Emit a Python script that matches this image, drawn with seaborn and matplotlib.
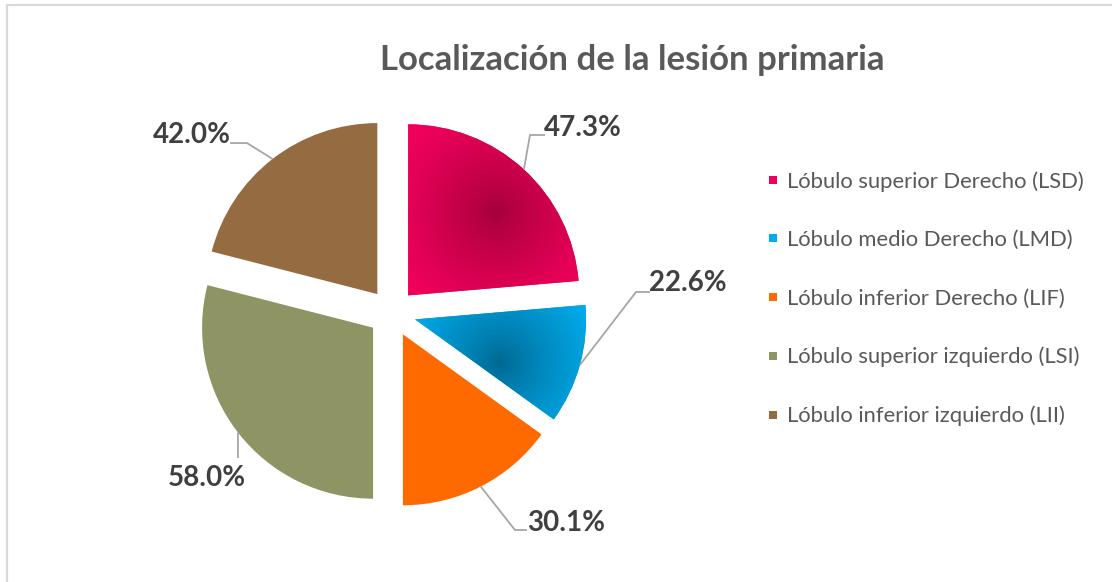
import matplotlib
matplotlib.use("Agg")
import matplotlib.pyplot as plt
from matplotlib.lines import Line2D
import seaborn as sns
import numpy as np

sns.set_theme(style="white")
plt.rcParams['font.family'] = ['Lato', 'DejaVu Sans']

# data
categories = ["Lóbulo superior Derecho (LSD)", "Lóbulo medio Derecho (LMD)",
              "Lóbulo inferior Derecho (LIF)", "Lóbulo superior izquierdo (LSI)",
              "Lóbulo inferior izquierdo (LII)"]
values = [47.3, 22.6, 30.1, 58.0, 42.0]
colors = ['#EE005A', '#00AEEF', '#FF6A00', '#8F9464', '#956B42']
# radial shading for the first two slices: centre colour, (dist, angle shift)
shade = ['#A3003A', '#00668F', None, None, None]
shade_pos = [(0.71, -4), (0.56, -11), None, None, None]

title = "Localización de la lesión primaria"
txtcol = '#595959'
lblcol = '#404040'
linecol = '#A6A6A6'

# label layout, in pie radii relative to pie centre: elbow, line end, text
label_layout = [
    ((0.807, 1.041), (0.895, 1.041), (1.117, 1.082)),
    ((1.427, 0.123), (1.509, 0.123), (1.731, 0.175)),
    ((0.719, -1.269), (0.789, -1.269), (1.018, -1.228)),
    ((-0.901, -0.848), (-0.901, -0.848), (-1.082, -0.965)),
    ((-0.848, 0.994), (-0.947, 0.994), (-1.170, 1.041)),
]

explode_frac = 0.14
W, H = 1112, 582
fig = plt.figure(figsize=(W / 100, H / 100), dpi=100)
fig.patch.set_facecolor('white')

R = 171.0
cx, cy = 392, H - 313
half = 250
ax = fig.add_axes([(cx - half) / W, (cy - half) / H, 2 * half / W, 2 * half / H])

wedges, _ = ax.pie(values, colors=colors, startangle=90, counterclock=False,
                   explode=[explode_frac] * len(values), radius=1,
                   wedgeprops=dict(linewidth=0))
lim = half / R
ax.set_xlim(-lim, lim)
ax.set_ylim(-lim, lim)
ax.set_aspect('equal')
ax.axis('off')

# radial gradients clipped to wedges
n = 500
gx = np.linspace(-lim, lim, n)
GX, GY = np.meshgrid(gx, gx)
for w, outer, inner, pos in zip(wedges, colors, shade, shade_pos):
    if inner is None:
        continue
    mid = np.deg2rad((w.theta1 + w.theta2) / 2 + pos[1])
    ox, oy = w.center
    gcx, gcy = ox + pos[0] * np.cos(mid), oy + pos[0] * np.sin(mid)
    d = np.hypot(GX - gcx, GY - gcy)
    t = np.clip(d / 0.62, 0, 1) ** 0.8
    c_out = np.array(matplotlib.colors.to_rgb(outer))
    c_in = np.array(matplotlib.colors.to_rgb(inner))
    img = c_in[None, None, :] * (1 - t[..., None]) + c_out[None, None, :] * t[..., None]
    im = ax.imshow(img, extent=(-lim, lim, -lim, lim), origin='lower',
                   zorder=w.get_zorder() + 0.5, interpolation='bilinear')
    im.set_clip_path(w)

# labels with leader lines
for w, v, (elbow, end, txt) in zip(wedges, values, label_layout):
    mid = np.deg2rad((w.theta1 + w.theta2) / 2)
    ox, oy = w.center
    ax_, ay_ = ox + np.cos(mid), oy + np.sin(mid)
    ax.plot([ax_, elbow[0], end[0]], [ay_, elbow[1], end[1]], color=linecol,
            lw=1.3, solid_capstyle='butt', zorder=5, clip_on=False)
    ax.text(txt[0], txt[1], f"{v:.1f}%", ha='center', va='center',
            fontsize=20, fontweight='bold', color=lblcol, clip_on=False)

fig.text(632 / W, 1 - 60 / H, title, ha='center', va='center',
         fontsize=25, fontweight='bold', color=txtcol)

handles = [Line2D([], [], marker='s', linestyle='none', markersize=6,
                  markerfacecolor=c, markeredgewidth=0) for c in colors]
fig.legend(handles, categories, loc='upper left',
           bbox_to_anchor=(757 / W, 1 - 160 / H), frameon=False,
           fontsize=15.8, labelcolor=txtcol, handlelength=0.5,
           handletextpad=0.35, labelspacing=1.75, borderpad=0)

# chart area border (only top and left visible)
fig.add_artist(Line2D([7 / W, 7 / W], [0, 1 - 5 / H], color='#D9D9D9', lw=1.6,
                      transform=fig.transFigure))
fig.add_artist(Line2D([7 / W, 1], [1 - 5 / H, 1 - 5 / H], color='#D9D9D9', lw=1.6,
                      transform=fig.transFigure))

fig.savefig('out.png', dpi=100, facecolor='white')
